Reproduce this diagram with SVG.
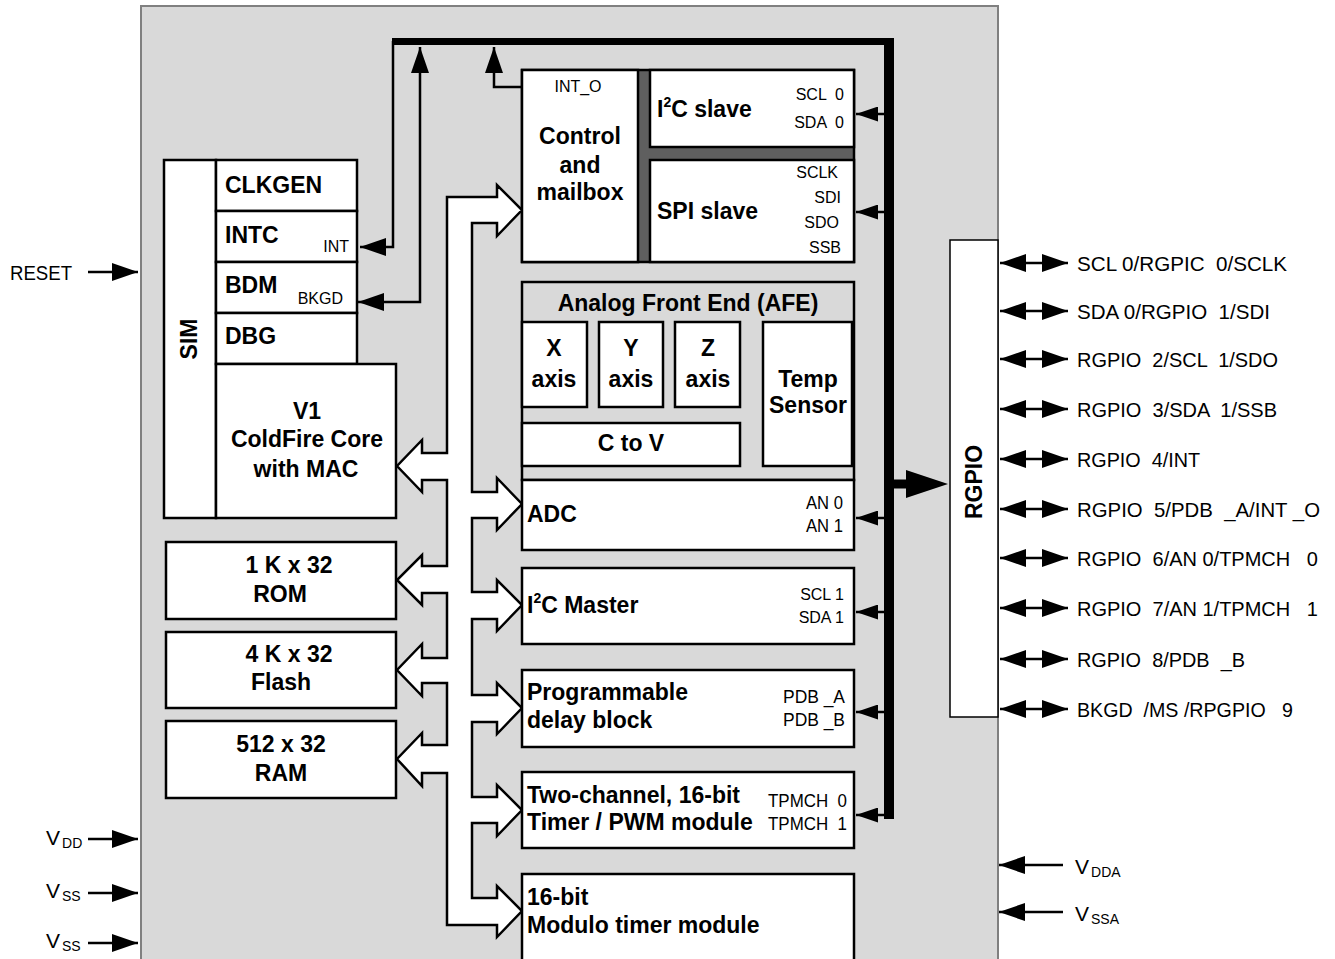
<svg xmlns="http://www.w3.org/2000/svg" width="1335" height="959" viewBox="0 0 1335 959">
<style>
.bx{fill:#fff;stroke:#000;stroke-width:2.5}
.b{font-family:"Liberation Sans",Arial,sans-serif;font-weight:bold;font-size:23px;fill:#000}
.n{font-family:"Liberation Sans",Arial,sans-serif;font-size:16px;fill:#000;white-space:pre}
.m{font-family:"Liberation Sans",Arial,sans-serif;font-size:18px;fill:#000;white-space:pre}
.p{font-family:"Liberation Sans",Arial,sans-serif;font-size:21px;fill:#000;white-space:pre}
.sub{font-size:14px}
.sup{font-size:14px}
.w{fill:none;stroke:#000;stroke-width:2.5}
.c{text-anchor:middle}
.e{text-anchor:end}
</style>
<defs>
<marker id="ah" markerUnits="userSpaceOnUse" markerWidth="27" markerHeight="18" refX="26" refY="9" orient="auto-start-reverse"><path d="M0,0 L26,9 L0,18 z" fill="#000"/></marker>
<marker id="as" markerUnits="userSpaceOnUse" markerWidth="23" markerHeight="15" refX="22" refY="7.5" orient="auto"><path d="M0,0 L22,7.5 L0,15 z" fill="#000"/></marker>
</defs>
<rect x="141" y="6" width="857" height="960" fill="#d9d9d9" stroke="#808080" stroke-width="2"/>

<g id="connectors">
<rect x="392" y="38" width="502" height="7" fill="#000"/>
<rect x="884" y="38" width="10" height="781" fill="#000"/>
<polyline class="w" points="393,41 393,247 360,247" marker-end="url(#ah)"/>
<polyline class="w" points="358,302 420,302 420,47" marker-start="url(#ah)" marker-end="url(#ah)"/>
<polyline class="w" points="522,87 494,87 494,47" marker-end="url(#ah)"/>
<line class="w" x1="884" y1="114" x2="856" y2="114" marker-end="url(#as)"/>
<line class="w" x1="884" y1="212" x2="856" y2="212" marker-end="url(#as)"/>
<line class="w" x1="884" y1="518" x2="856" y2="518" marker-end="url(#as)"/>
<line class="w" x1="884" y1="612" x2="856" y2="612" marker-end="url(#as)"/>
<line class="w" x1="884" y1="712" x2="856" y2="712" marker-end="url(#as)"/>
<line class="w" x1="884" y1="815" x2="856" y2="815" marker-end="url(#as)"/>
<line x1="893" y1="484" x2="910" y2="484" stroke="#000" stroke-width="9"/>
<polygon points="906,470 948,484 906,498" fill="#000"/>
<polygon fill="#fff" stroke="#000" stroke-width="2.5" points="447,197 497,197 497,185 522,210 497,236 497,223 472,223 472,492 497,492 497,478 522,504 497,530 497,518 472,518 472,592 497,592 497,580 522,605 497,631 497,619 472,619 472,695 497,695 497,683 522,708 497,734 497,722 472,722 472,797 497,797 497,785 522,810 497,836 497,823 472,823 472,898 497,898 497,886 522,911 497,937 497,925 447,925 447,773 422,773 422,786 397,759 422,733 422,745 447,745 447,683 422,683 422,696 397,670 422,644 422,658 447,658 447,593 422,593 422,605 397,580 422,555 422,566 447,566 447,480 422,480 422,492 397,466 422,440 422,453 447,453"/>
<line class="w" x1="88" y1="272" x2="138" y2="272" marker-end="url(#ah)"/>
<line class="w" x1="88" y1="839" x2="138" y2="839" marker-end="url(#ah)"/>
<line class="w" x1="88" y1="893" x2="138" y2="893" marker-end="url(#ah)"/>
<line class="w" x1="88" y1="943" x2="138" y2="943" marker-end="url(#ah)"/>
<line class="w" x1="1063" y1="865" x2="999" y2="865" marker-end="url(#ah)"/>
<line class="w" x1="1063" y1="912" x2="999" y2="912" marker-end="url(#ah)"/>
<line class="w" x1="1000" y1="263" x2="1068" y2="263" marker-start="url(#ah)" marker-end="url(#ah)"/>
<line class="w" x1="1000" y1="311" x2="1068" y2="311" marker-start="url(#ah)" marker-end="url(#ah)"/>
<line class="w" x1="1000" y1="359" x2="1068" y2="359" marker-start="url(#ah)" marker-end="url(#ah)"/>
<line class="w" x1="1000" y1="409" x2="1068" y2="409" marker-start="url(#ah)" marker-end="url(#ah)"/>
<line class="w" x1="1000" y1="459" x2="1068" y2="459" marker-start="url(#ah)" marker-end="url(#ah)"/>
<line class="w" x1="1000" y1="509" x2="1068" y2="509" marker-start="url(#ah)" marker-end="url(#ah)"/>
<line class="w" x1="1000" y1="558" x2="1068" y2="558" marker-start="url(#ah)" marker-end="url(#ah)"/>
<line class="w" x1="1000" y1="608" x2="1068" y2="608" marker-start="url(#ah)" marker-end="url(#ah)"/>
<line class="w" x1="1000" y1="659" x2="1068" y2="659" marker-start="url(#ah)" marker-end="url(#ah)"/>
<line class="w" x1="1000" y1="709" x2="1068" y2="709" marker-start="url(#ah)" marker-end="url(#ah)"/>
</g>

<g id="sim">
<rect class="bx" x="164" y="160" width="52" height="358"/>
<text class="b c" transform="translate(197,339) rotate(-90)">SIM</text>
</g>
<g id="clkgen"><rect class="bx" x="216" y="160" width="141" height="51"/><text class="b" x="225" y="193">CLKGEN</text></g>
<g id="intc"><rect class="bx" x="216" y="211" width="141" height="51"/><text class="b" x="225" y="243">INTC</text><text class="n e" x="349" y="252">INT</text></g>
<g id="bdm"><rect class="bx" x="216" y="262" width="141" height="51"/><text class="b" x="225" y="293">BDM</text><text class="n e" x="343" y="304">BKGD</text></g>
<g id="dbg"><rect class="bx" x="216" y="313" width="141" height="51"/><text class="b" x="225" y="344">DBG</text></g>
<g id="core"><rect class="bx" x="216" y="364" width="180" height="154"/>
<text class="b c" x="307" y="419">V1</text><text class="b c" x="307" y="447">ColdFire Core</text><text class="b c" x="306" y="477">with MAC</text></g>

<g id="rom"><rect class="bx" x="166" y="542" width="230" height="77"/><text class="b c" x="289" y="573">1 K x 32</text><text class="b c" x="280" y="602">ROM</text></g>
<g id="flash"><rect class="bx" x="166" y="632" width="230" height="76"/><text class="b c" x="289" y="662">4 K x 32</text><text class="b c" x="281" y="690">Flash</text></g>
<g id="ram"><rect class="bx" x="166" y="721" width="230" height="77"/><text class="b c" x="281" y="752">512 x 32</text><text class="b c" x="281" y="781">RAM</text></g>

<g id="control">
<rect x="522" y="70" width="332" height="192" fill="#5f5f5f" stroke="#000" stroke-width="2.5"/>
<rect class="bx" x="522" y="70" width="116" height="192"/>
<text class="n c" x="578" y="92">INT_O</text>
<text class="b c" x="580" y="144">Control</text><text class="b c" x="580" y="173">and</text><text class="b c" x="580" y="200">mailbox</text>
</g>
<g id="i2cslave"><rect class="bx" x="650" y="70" width="204" height="77"/>
<text class="b" x="657" y="117">I<tspan class="sup" dy="-10">2</tspan><tspan dy="10">C slave</tspan></text>
<text class="n e" x="844" y="100">SCL  0</text><text class="n e" x="844" y="128">SDA  0</text></g>
<g id="spislave"><rect class="bx" x="650" y="160" width="204" height="102"/>
<text class="b" x="657" y="219">SPI slave</text>
<text class="n e" x="838" y="178">SCLK</text><text class="n e" x="841" y="203">SDI</text><text class="n e" x="839" y="228">SDO</text><text class="n e" x="841" y="253">SSB</text></g>

<g id="afe">
<rect x="522" y="282" width="332" height="198" fill="#d9d9d9" stroke="#000" stroke-width="2.5"/>
<text class="b c" x="688" y="311">Analog Front End (AFE)</text>
<rect class="bx" x="522" y="322" width="65" height="85"/><text class="b c" x="554" y="356">X</text><text class="b c" x="554" y="387">axis</text>
<rect class="bx" x="599" y="322" width="64" height="85"/><text class="b c" x="631" y="356">Y</text><text class="b c" x="631" y="387">axis</text>
<rect class="bx" x="675" y="322" width="65" height="85"/><text class="b c" x="708" y="356">Z</text><text class="b c" x="708" y="387">axis</text>
<rect class="bx" x="763" y="322" width="89" height="144"/><text class="b c" x="808" y="387">Temp</text><text class="b c" x="808" y="413">Sensor</text>
<rect class="bx" x="522" y="423" width="218" height="43"/><text class="b c" x="631" y="451">C to V</text>
</g>
<g id="adc"><rect class="bx" x="522" y="480" width="332" height="70"/><text class="b" x="527" y="522">ADC</text>
<text class="m" x="806" y="509" textLength="37" lengthAdjust="spacingAndGlyphs">AN 0</text><text class="m" x="806" y="532" textLength="37" lengthAdjust="spacingAndGlyphs">AN 1</text></g>
<g id="i2cmaster"><rect class="bx" x="522" y="568" width="332" height="76"/>
<text class="b" x="527" y="613">I<tspan class="sup" dy="-10">2</tspan><tspan dy="10">C Master</tspan></text>
<text class="n e" x="844" y="600">SCL 1</text><text class="n e" x="844" y="623">SDA 1</text></g>
<g id="pdb"><rect class="bx" x="522" y="670" width="332" height="77"/>
<text class="b" x="527" y="700">Programmable</text><text class="b" x="527" y="728">delay block</text>
<text class="m" x="783" y="703" textLength="62" lengthAdjust="spacingAndGlyphs">PDB _A</text><text class="m" x="783" y="726" textLength="62" lengthAdjust="spacingAndGlyphs">PDB _B</text></g>
<g id="tpm"><rect class="bx" x="522" y="772" width="332" height="76"/>
<text class="b" x="527" y="803">Two-channel, 16-bit</text><text class="b" x="527" y="830">Timer / PWM module</text>
<text class="m" x="768" y="807" textLength="79" lengthAdjust="spacingAndGlyphs">TPMCH  0</text><text class="m" x="768" y="830" textLength="79" lengthAdjust="spacingAndGlyphs">TPMCH  1</text></g>
<g id="mtim"><rect class="bx" x="522" y="874" width="332" height="90"/>
<text class="b" x="527" y="905">16-bit</text><text class="b" x="527" y="933">Modulo timer module</text></g>

<g id="rgpio"><rect x="950" y="240" width="48" height="477" fill="#fff" stroke="#000" stroke-width="1.5"/>
<text class="b c" transform="translate(982,482) rotate(-90)">RGPIO</text></g>

<g id="pins">
<text class="p" x="1077" y="271" textLength="210" lengthAdjust="spacingAndGlyphs">SCL 0/RGPIC  0/SCLK</text>
<text class="p" x="1077" y="319" textLength="193" lengthAdjust="spacingAndGlyphs">SDA 0/RGPIO  1/SDI</text>
<text class="p" x="1077" y="367" textLength="201" lengthAdjust="spacingAndGlyphs">RGPIO  2/SCL  1/SDO</text>
<text class="p" x="1077" y="417" textLength="200" lengthAdjust="spacingAndGlyphs">RGPIO  3/SDA  1/SSB</text>
<text class="p" x="1077" y="467" textLength="123" lengthAdjust="spacingAndGlyphs">RGPIO  4/INT</text>
<text class="p" x="1077" y="517" textLength="243" lengthAdjust="spacingAndGlyphs">RGPIO  5/PDB  _A/INT _O</text>
<text class="p" x="1077" y="566" textLength="241" lengthAdjust="spacingAndGlyphs">RGPIO  6/AN 0/TPMCH   0</text>
<text class="p" x="1077" y="616" textLength="241" lengthAdjust="spacingAndGlyphs">RGPIO  7/AN 1/TPMCH   1</text>
<text class="p" x="1077" y="667" textLength="168" lengthAdjust="spacingAndGlyphs">RGPIO  8/PDB  _B</text>
<text class="p" x="1077" y="717" textLength="216" lengthAdjust="spacingAndGlyphs">BKGD  /MS /RPGPIO   9</text>
</g>

<g id="supplies">
<text class="p" x="10" y="280" textLength="62" lengthAdjust="spacingAndGlyphs">RESET</text>
<text class="p" x="46" y="845">V<tspan class="sub" dx="2" dy="3">DD</tspan></text>
<text class="p" x="46" y="898">V<tspan class="sub" dx="2" dy="3">SS</tspan></text>
<text class="p" x="46" y="948">V<tspan class="sub" dx="2" dy="3">SS</tspan></text>
<text class="p" x="1075" y="874">V<tspan class="sub" dx="2" dy="3">DDA</tspan></text>
<text class="p" x="1075" y="921">V<tspan class="sub" dx="2" dy="3">SSA</tspan></text>
</g>
</svg>
